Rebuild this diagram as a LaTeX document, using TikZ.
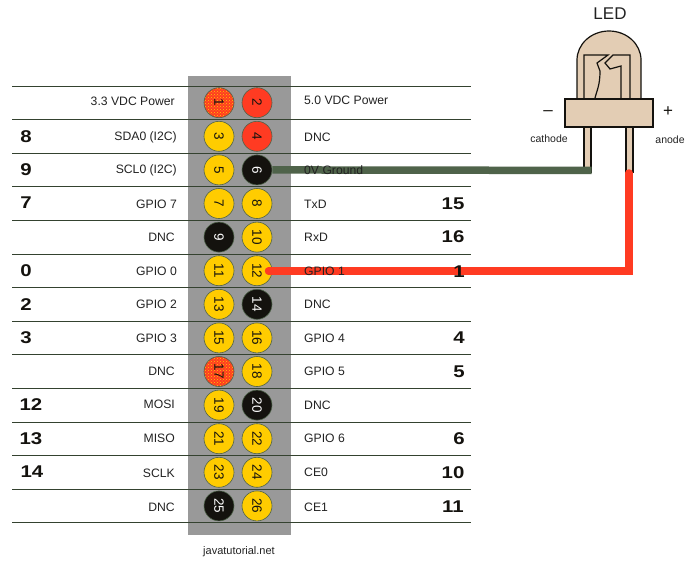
\documentclass[tikz,border=0pt]{standalone}
\usepackage{fontspec}
\usetikzlibrary{patterns}
\setmainfont{Liberation Sans}
\newfontfamily\numfont[FakeStretch=1.2]{Liberation Sans}
\definecolor{pinyellow}{HTML}{FFCC00}
\definecolor{pinred}{HTML}{FF3B22}
\definecolor{pinblack}{HTML}{14120E}
\definecolor{boardgray}{HTML}{999999}
\definecolor{wiregreen}{HTML}{4F634A}
\definecolor{rowgreen}{HTML}{34422F}
\definecolor{ledskin}{HTML}{E3CDB4}
\definecolor{textgray}{HTML}{222222}
\tikzset{
  pin/.style={circle,draw=wiregreen,line width=.6pt,minimum size=30pt,inner sep=0pt,
    font=\fontsize{13.5}{13.5}\selectfont,rotate=-90},
  sigleft/.style={anchor=east,inner sep=0pt,text=textgray,font=\fontsize{12.2}{12.2}\selectfont},
  sigright/.style={anchor=west,inner sep=0pt,text=textgray,font=\fontsize{12.2}{12.2}\selectfont},
  wpi/.style={text=pinblack,font=\numfont\bfseries\fontsize{17}{17}\selectfont},
  rowline/.style={draw=rowgreen,line width=.8pt},
  wire/.style={line width=7.5pt},
  ledline/.style={draw=pinblack,line width=1.2pt,fill=ledskin,line join=miter}
}
\begin{document}
\begin{tikzpicture}[x=1pt,y=-1pt]
      \useasboundingbox (0,0) rectangle (700,570);

      % board
      \fill[boardgray] (188,76) rectangle (291,535);

      % row lines
      \coordinate (l0) at (12,86);     \coordinate (r0) at (471,86);
      \coordinate (l1) at (12,119.6);  \coordinate (r1) at (471,119.6);
      \coordinate (l2) at (12,153.2);  \coordinate (r2) at (471,153.2);
      \coordinate (l3) at (12,186.8);  \coordinate (r3) at (471,186.8);
      \coordinate (l4) at (12,220.4);  \coordinate (r4) at (471,220.4);
      \coordinate (l5) at (12,254);    \coordinate (r5) at (471,254);
      \coordinate (l6) at (12,287.6);  \coordinate (r6) at (471,287.6);
      \coordinate (l7) at (12,321.2);  \coordinate (r7) at (471,321.2);
      \coordinate (l8) at (12,354.8);  \coordinate (r8) at (471,354.8);
      \coordinate (l9) at (12,388.4);  \coordinate (r9) at (471,388.4);
      \coordinate (l10) at (12,422);   \coordinate (r10) at (471,422);
      \coordinate (l11) at (12,455.6); \coordinate (r11) at (471,455.6);
      \coordinate (l12) at (12,489.2); \coordinate (r12) at (471,489.2);
      \coordinate (l13) at (12,522.8); \coordinate (r13) at (471,522.8);
      \begin{scope}[every path/.style={rowline}]
        \path (l0) -- (r0);   \path (l1) -- (r1);   \path (l2) -- (r2);
        \path (l3) -- (r3);   \path (l4) -- (r4);   \path (l5) -- (r5);
        \path (l6) -- (r6);   \path (l7) -- (r7);   \path (l8) -- (r8);
        \path (l9) -- (r9);   \path (l10) -- (r10); \path (l11) -- (r11);
        \path (l12) -- (r12); \path (l13) -- (r13);
      \end{scope}

      % pins
      \begin{scope}[every node/.style={pin,fill=pinyellow,text=pinblack}]
        \node (p3)  at (219,136.3) {3};
        \node (p5)  at (219,169.9) {5};
        \node (p7)  at (219,203.5) {7};
        \node (p11) at (219,270.7) {11};
        \node (p13) at (219,304.3) {13};
        \node (p15) at (219,337.9) {15};
        \node (p19) at (219,405.1) {19};
        \node (p21) at (219,438.7) {21};
        \node (p23) at (219,472.3) {23};
        \node (p8)  at (257,203.5) {8};
        \node (p10) at (257,237.1) {10};
        \node (p12) at (257,270.7) {12};
        \node (p16) at (257,337.9) {16};
        \node (p18) at (257,371.5) {18};
        \node (p22) at (257,438.7) {22};
        \node (p24) at (257,472.3) {24};
        \node (p26) at (257,505.9) {26};
      \end{scope}

      \begin{scope}[every node/.style={pin,fill=pinred,text=pinblack}]
        \node (p2) at (257,102.7) {2};
        \node (p4) at (257,136.3) {4};
      \end{scope}

      \begin{scope}[every node/.style={pin,preaction={fill=pinred},pattern=crosshatch dots,
          pattern color=pinyellow,text=pinblack}]
        \node (p1)  at (219,102.7) {1};
        \node (p17) at (219,371.5) {17};
      \end{scope}

      \begin{scope}[every node/.style={pin,fill=pinblack,text=white}]
        \node (p6)  at (257,169.9) {6};
        \node (p9)  at (219,237.1) {9};
        \node (p14) at (257,304.3) {14};
        \node (p20) at (257,405.1) {20};
        \node (p25) at (219,505.9) {25};
      \end{scope}

      % left signal names
      \begin{scope}[every node/.style={sigleft}]
        \node (s1)  at (175,101.5) {3.3 VDC Power};
        \node (s3)  at (177,137) {SDA0 (I2C)};
        \node (s5)  at (177,170) {SCL0 (I2C)};
        \node (s7)  at (177,204) {GPIO 7};
        \node (s9)  at (175,237.5) {DNC};
        \node (s11) at (177,271) {GPIO 0};
        \node (s13) at (177,304.5) {GPIO 2};
        \node (s15) at (177,338) {GPIO 3};
        \node (s17) at (175,371.5) {DNC};
        \node (s19) at (175,404.5) {MOSI};
        \node (s21) at (175,438.7) {MISO};
        \node (s23) at (175,473) {SCLK};
        \node (s25) at (175,507) {DNC};
      \end{scope}

      % led
      \draw[ledline] (577,99) -- (577,60) arc[start angle=180,end angle=0,x radius=32,y radius=-29] -- (641,99);
      \draw[ledline] (584,99) -- (584,55) -- (608,55) -- (597,63) -- (600,71)
        .. controls (600,85) and (597,90) .. (595,98);
      \draw[ledline] (630,99) -- (630,55) -- (613,55) -- (605,63) -- (610,69) -- (621,66) -- (621,99);
      \draw[ledline] (584,127) rectangle (591,172);
      \draw[ledline] (626,127) rectangle (633,172);
      \draw[ledline] (565,99) rectangle (653,127);

      % wires
      \coordinate (cathode) at (591.5,170.4);
      \coordinate (wirestart) at (268.5,270.9);
      \coordinate (anode) at (629,173);
      \coordinate (bend) at (629,270.9);
      \draw[wire,wiregreen] (p6) -- (cathode);
      \draw[wire,pinred,line join=miter,line cap=round] (wirestart) -- (bend) -- (anode);

      % right signal names
      \begin{scope}[every node/.style={sigright}]
        \node (s2)  at (304,100.7) {5.0 VDC Power};
        \node (s4)  at (304,137.3) {DNC};
        \node (s6)  at (304,170.4) {0V Ground};
        \node (s8)  at (304,204) {TxD};
        \node (s10) at (304,237.1) {RxD};
        \node (s12) at (304,271.7) {GPIO 1};
        \node (s14) at (304,304.3) {DNC};
        \node (s16) at (304,337.9) {GPIO 4};
        \node (s18) at (304,371.5) {GPIO 5};
        \node (s20) at (304,405.1) {DNC};
        \node (s22) at (304,438.7) {GPIO 6};
        \node (s24) at (304,472.3) {CE0};
        \node (s26) at (304,506.9) {CE1};
      \end{scope}

      % wiringPi numbers
      \begin{scope}[every node/.style={wpi}]
        \node (w8)  at (26,137)  {8};
        \node (w9)  at (26,170)  {9};
        \node (w7)  at (26,203)  {7};
        \node (w0)  at (26,271)  {0};
        \node (w2)  at (26,305)  {2};
        \node (w3)  at (26,338)  {3};
        \node (w12) at (31,405)  {12};
        \node (w13) at (31,439)  {13};
        \node (w14) at (32,472)  {14};
        \node (w15) at (453,204) {15};
        \node (w16) at (453,237) {16};
        \node (w1)  at (459,272) {1};
        \node (w4)  at (459,338) {4};
        \node (w5)  at (459,372) {5};
        \node (w6)  at (459,439) {6};
        \node (w10) at (453,473) {10};
        \node (w11) at (453,507) {11};
      \end{scope}

      \node[text=textgray,font=\fontsize{17}{17}\selectfont] (ledname) at (610,14) {LED};
      \node[text=textgray,font=\fontsize{10.5}{10.5}\selectfont] (cathodename) at (549,139) {cathode};
      \node[text=textgray,font=\fontsize{10.5}{10.5}\selectfont] (anodename) at (670,140) {anode};
      \node[text=pinblack,font=\fontsize{17}{17}\selectfont] (minus) at (548,113) {--};
      \node[text=pinblack,font=\fontsize{17}{17}\selectfont] (plus) at (668,112) {+};

      \node[text=textgray,font=\fontsize{11}{11}\selectfont] (site) at (239,552) {javatutorial.net};

\end{tikzpicture}
\end{document}
